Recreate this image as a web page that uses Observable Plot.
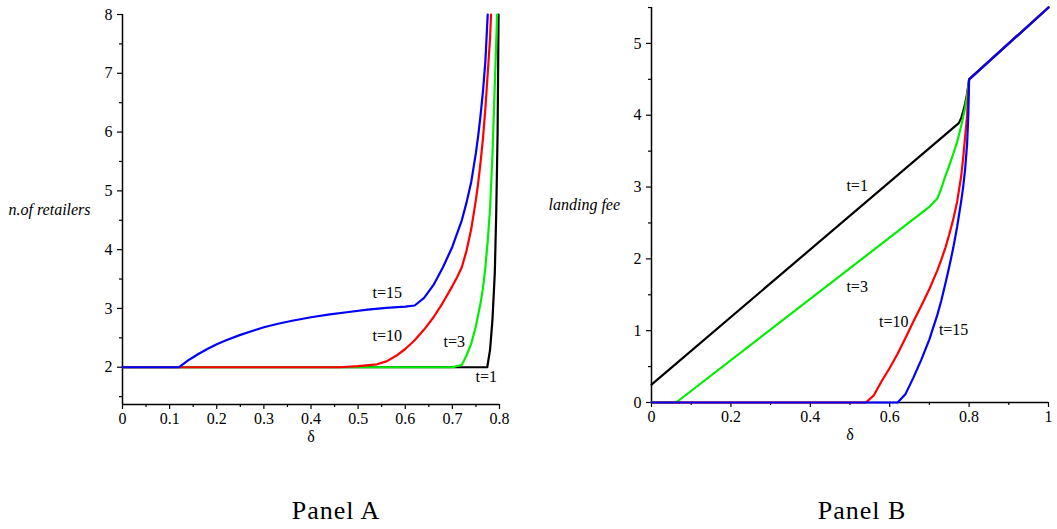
<!DOCTYPE html>
<html><head><meta charset="utf-8">
<script src="https://cdn.jsdelivr.net/npm/d3@7"></script>
<script src="https://cdn.jsdelivr.net/npm/@observablehq/plot@0.6"></script>
<style>
body{margin:0;background:#fff;}
#wrap{position:relative;width:1057px;height:529px;font-family:'Liberation Serif','Times New Roman',serif;}
#wrap svg{position:absolute;top:0;}
.cap{position:absolute;top:496px;font-size:26px;letter-spacing:1px;transform:translateX(-50%);white-space:nowrap;color:#000;font-family:'Liberation Serif','Times New Roman',serif;}
</style></head><body><div id="wrap"></div>
<script>
// ---------- Panel A: number of retailers vs delta ----------
const panelA_t1 = [[0,2],[0.774,2],[0.78,2.3],[0.785,2.8],[0.79,3.6],[0.793,4.6],[0.796,6],[0.798,8]];
const panelA_t3 = [[0,2],[0.70,2],[0.72,2.04],[0.73,2.2],[0.74,2.4],[0.75,2.7],[0.76,3.1],[0.765,3.35],[0.77,3.7],[0.775,4.15],[0.78,4.7],[0.785,5.6],[0.79,6.8],[0.795,8]];
const panelA_t10 = [[0,2],[0.46,2],[0.50,2.02],[0.54,2.05],[0.56,2.1],[0.58,2.19],[0.60,2.31],[0.62,2.46],[0.64,2.64],[0.66,2.85],[0.68,3.1],[0.70,3.38],[0.71,3.53],[0.72,3.7],[0.73,3.98],[0.74,4.35],[0.75,4.85],[0.755,5.15],[0.76,5.5],[0.765,5.9],[0.77,6.4],[0.775,7.0],[0.78,7.6],[0.782,8]];
const panelA_t15 = [[0,2],[0.12,2],[0.13,2.06],[0.14,2.12],[0.15,2.17],[0.16,2.22],[0.18,2.31],[0.20,2.39],[0.22,2.46],[0.25,2.55],[0.28,2.63],[0.30,2.68],[0.33,2.74],[0.36,2.79],[0.40,2.85],[0.44,2.90],[0.48,2.94],[0.52,2.98],[0.56,3.01],[0.60,3.03],[0.62,3.05],[0.64,3.18],[0.66,3.4],[0.68,3.7],[0.70,4.05],[0.72,4.5],[0.73,4.8],[0.74,5.15],[0.75,5.65],[0.755,5.95],[0.76,6.3],[0.765,6.7],[0.77,7.2],[0.775,8]];
const panelA_labels = [["t=15",0.562,3.26],["t=10",0.562,2.54],["t=3",0.704,2.43],["t=1",0.772,1.83]];
const panelA_xTicks = [0,0.1,0.2,0.3,0.4,0.5,0.6,0.7,0.8];
const panelA_xMinor = [0.05,0.15,0.25,0.35,0.45,0.55,0.65,0.75];
const panelA_yTicks = [2,3,4,5,6,7,8];
const panelA_yMinor = [1.5,2.5,3.5,4.5,5.5,6.5,7.5];

// ---------- Panel B: landing fee vs delta ----------
const panelB_t1 = [[0,0.25],[0.774,3.89],[0.78,3.96],[0.785,4.05],[0.79,4.16],[0.795,4.3],[0.8,4.5],[1,5.5]];
const panelB_t3 = [[0,0],[0.062,0],[0.699,2.72],[0.72,2.84],[0.73,2.98],[0.74,3.15],[0.75,3.3],[0.76,3.46],[0.77,3.63],[0.78,3.85],[0.79,4.1],[0.795,4.27],[0.8,4.5],[1,5.5]];
const panelB_t10 = [[0,0],[0.54,0],[0.56,0.1],[0.58,0.3],[0.60,0.48],[0.62,0.68],[0.64,0.9],[0.66,1.13],[0.68,1.35],[0.70,1.58],[0.72,1.84],[0.73,1.99],[0.74,2.15],[0.75,2.34],[0.76,2.55],[0.77,2.8],[0.78,3.15],[0.785,3.4],[0.79,3.7],[0.795,4.0],[0.8,4.5],[1,5.5]];
const panelB_t15 = [[0,0],[0.62,0],[0.64,0.12],[0.66,0.35],[0.68,0.6],[0.70,0.88],[0.72,1.22],[0.73,1.42],[0.74,1.65],[0.75,1.89],[0.76,2.15],[0.77,2.45],[0.78,2.8],[0.785,3.0],[0.79,3.25],[0.795,3.6],[0.798,4.0],[0.8,4.5],[1,5.5]];
const panelB_labels = [["t=1",0.518,3.02],["t=3",0.518,1.61],["t=10",0.610,1.12],["t=15",0.761,1.01]];
const panelB_xTicks = [0,0.2,0.4,0.6,0.8,1];
const panelB_xMinor = [0.1,0.3,0.5,0.7,0.9];
const panelB_yTicks = [0,1,2,3,4,5];
const panelB_yMinor = [0.5,1.5,2.5,3.5,4.5,5.5];

const colors = {t1:"#000000", t3:"#00ee00", t10:"#ff0000", t15:"#0000ff"};
const fmt = d => String(+d.toFixed(2));
const serif = "'Liberation Serif','Times New Roman',serif";

function panel(o) {
  const [ymin] = o.yDomain;
  const series = [["t1",o.s1],["t3",o.s3],["t10",o.s10],["t15",o.s15]];
  return Plot.plot({
    width: o.width, height: 450,
    marginLeft: o.ml, marginRight: o.mr, marginTop: o.mt, marginBottom: o.mb,
    style: {fontFamily: serif, fontSize: "16px", background: "transparent", color: "#000"},
    x: {domain: o.xDomain},
    y: {domain: o.yDomain},
    marks: [
      Plot.axisX({ticks: o.xTicks, tickSize: 5, tickPadding: 3, tickFormat: fmt, label: null, strokeWidth: 1.2}),
      Plot.axisX({ticks: o.xMinor, tickSize: 3, tickFormat: () => "", label: null, strokeWidth: 1.2}),
      Plot.axisY({ticks: o.yTicks, tickSize: 5, tickPadding: 5, tickFormat: fmt, label: null, strokeWidth: 1.2}),
      Plot.axisY({ticks: o.yMinor, tickSize: 3, tickFormat: () => "", label: null, strokeWidth: 1.2}),
      Plot.ruleX([0], {stroke: "#000", strokeWidth: 1.5}),
      Plot.ruleY([ymin], {stroke: "#000", strokeWidth: 1.5}),
      ...series.map(([k, d]) => Plot.line(d, {x: p => p[0], y: p => p[1], stroke: colors[k], strokeWidth: 2.2})),
      Plot.text(o.labels, {x: d => d[1], y: d => d[2], text: d => d[0], fontSize: 16, fill: "#000"}),
      Plot.text(["δ"], {frameAnchor: "bottom", dy: 37, fontSize: 16, fill: "#000"}),
      Plot.text([o.yLabel], {frameAnchor: "left", dx: o.yLabelDx, textAnchor: "start", fontSize: 16, fontStyle: "italic", fill: "#000"})
    ]
  });
}

const wrap = document.getElementById("wrap");
const a = panel({width: 530, ml: 122, mr: 31, mt: 14, mb: 46, xDomain: [0, 0.8], yDomain: [1.366, 8],
  xTicks: panelA_xTicks, xMinor: panelA_xMinor, yTicks: panelA_yTicks, yMinor: panelA_yMinor,
  s1: panelA_t1, s3: panelA_t3, s10: panelA_t10, s15: panelA_t15, labels: panelA_labels,
  yLabel: "n.of retailers", yLabelDx: -114});
a.style.left = "0px";
wrap.appendChild(a);
const b = panel({width: 527, ml: 121, mr: 9, mt: 7, mb: 48, xDomain: [0, 1], yDomain: [0, 5.5],
  xTicks: panelB_xTicks, xMinor: panelB_xMinor, yTicks: panelB_yTicks, yMinor: panelB_yMinor,
  s1: panelB_t1, s3: panelB_t3, s10: panelB_t10, s15: panelB_t15, labels: panelB_labels,
  yLabel: "landing fee", yLabelDx: -103});
b.style.left = "530px";
wrap.appendChild(b);

for (const [txt, x] of [["Panel A", 336], ["Panel B", 862]]) {
  const d = document.createElement("div");
  d.className = "cap"; d.textContent = txt; d.style.left = x + "px";
  wrap.appendChild(d);
}
</script>
</body></html>
